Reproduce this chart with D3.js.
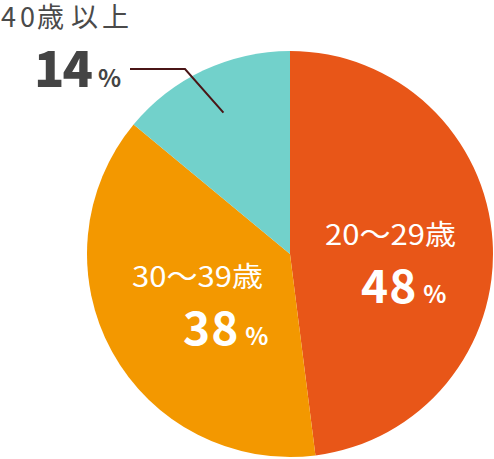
<!DOCTYPE html>
<html><head><meta charset="utf-8">
<script src="https://cdn.jsdelivr.net/npm/d3@7/dist/d3.min.js"></script>
<style>
html,body{margin:0;padding:0;background:#fff;}
svg{display:block;}
text{font-family:"Noto Sans CJK JP","Noto Sans",sans-serif;}
</style></head>
<body>
<script>
const categories = ["20〜29歳", "30〜39歳", "40歳以上"];
const values = [48, 38, 14];
const colors = ["#E85618", "#F39800", "#72D1CB"];

const W = 494, H = 459;
const cx = 290, cy = 254, R = 203;

const svg = d3.select("body").append("svg").attr("width", W).attr("height", H);
const g = svg.append("g").attr("transform", `translate(${cx},${cy})`);

const pie = d3.pie().sort(null).value(d => d)(values);
const arc = d3.arc().innerRadius(0).outerRadius(R);

g.selectAll("path.slice").data(pie).enter().append("path")
  .attr("class", "slice")
  .attr("d", arc)
  .attr("fill", (d, i) => colors[i]);

// leader line for small slice
const leadArc = d3.arc().innerRadius(R * 0.77).outerRadius(R * 0.77);
const p = leadArc.centroid(pie[2]);
svg.append("polyline")
  .attr("points", `${130},${69} ${185},${69} ${cx + p[0]},${cy + p[1]}`)
  .attr("fill", "none").attr("stroke", "#4A1516").attr("stroke-width", 2);

function value(x, y, val, col, numSize, numWeight, numSpacing, pctSize, pctDx) {
  const t = svg.append("text").attr("x", x).attr("y", y).attr("fill", col);
  t.append("tspan").attr("font-size", numSize).attr("font-weight", numWeight).attr("letter-spacing", numSpacing).text(val);
  t.append("tspan").attr("font-size", pctSize).attr("font-weight", 700).attr("letter-spacing", 0).attr("dx", pctDx).text("%");
}

// inside labels
[[325, 245, 0], [132, 287, 1]].forEach(([x, y, i]) => {
  svg.append("text").attr("x", x).attr("y", y)
    .attr("fill", "#fff").attr("font-size", 28)
    .attr("textLength", 131).attr("lengthAdjust", "spacingAndGlyphs")
    .text(categories[i]);
});
value(361, 303, values[0], "#fff", 46, 700, 1, 24, 6);
value(183, 345, values[1], "#fff", 46, 700, 1, 24, 6);

// outside label (per-character x positions)
svg.append("text").attr("x", "1 20 37 71 102").attr("y", 27)
  .attr("fill", "#4a4a4a").attr("font-size", 27)
  .text(categories[2]);
value(34, 87, values[2], "#444", 50, 900, -2, 24, 7);
</script>
</body></html>
